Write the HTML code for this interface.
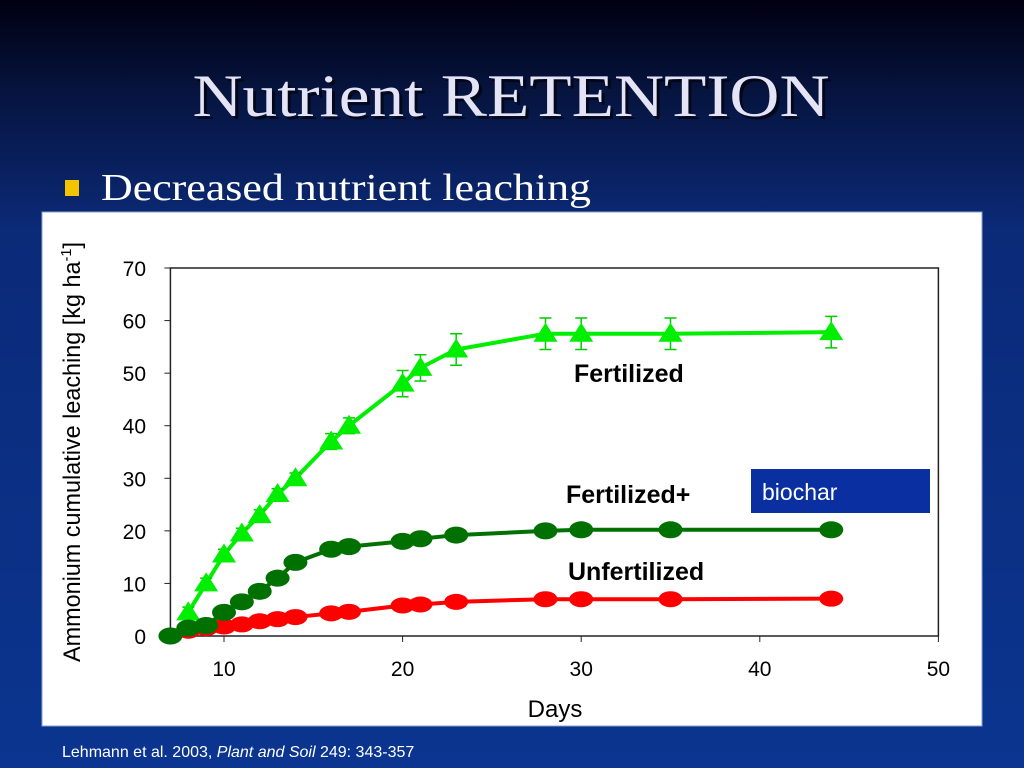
<!DOCTYPE html>
<html><head><meta charset="utf-8"><style>
body{margin:0;width:1024px;height:768px;overflow:hidden;}
svg{display:block}
</style></head><body>
<svg width="1024" height="768" xmlns="http://www.w3.org/2000/svg">
<defs>
<linearGradient id="bg" x1="0" y1="0" x2="0" y2="1">
<stop offset="0" stop-color="#000010"/><stop offset="0.12" stop-color="#06143f"/><stop offset="0.3" stop-color="#0b2a78"/><stop offset="1" stop-color="#0b3590"/>
</linearGradient>
</defs>
<rect width="1024" height="768" fill="url(#bg)"/>
<text x="514" y="119" text-anchor="middle" font-family="Liberation Serif, serif" font-size="60" fill="#000" opacity="0.6" textLength="637" lengthAdjust="spacingAndGlyphs">Nutrient RETENTION</text>
<text x="511" y="116" text-anchor="middle" font-family="Liberation Serif, serif" font-size="60" fill="#e4e4f6" textLength="637" lengthAdjust="spacingAndGlyphs">Nutrient RETENTION</text>
<rect x="65" y="180" width="14" height="16" fill="#f5c400"/>
<text x="101" y="200" font-family="Liberation Serif, serif" font-size="38" fill="#fff" textLength="490" lengthAdjust="spacingAndGlyphs">Decreased nutrient leaching</text>
<rect x="42" y="212" width="940" height="514" fill="#fff" stroke="#8aa0d0"/>
<g id="chart"></g>
<text x="62" y="757" font-family="Liberation Sans, sans-serif" font-size="16" fill="#fff">Lehmann et al. 2003, <tspan font-style="italic">Plant and Soil</tspan> 249: 343-357</text>
</svg>
<script>
const days=[8,9,10,11,12,13,14,16,17,20,21,23,28,30,35,44];
const fertilized=[4.5,10,15.5,19.5,23,27,30,37,40,48,51,54.5,57.5,57.5,57.5,57.8];
const fertErr=[1,1,1,1,1,1,1,1.5,1.5,2.5,2.5,3,3,3,3,3];
const biocharDays=[7,8,9,10,11,12,13,14,16,17,20,21,23,28,30,35,44];
const biochar=[0,1.5,2,4.5,6.5,8.5,11,14,16.5,17,18,18.5,19.2,20,20.2,20.2,20.2];
const unfertDays=[8,9,10,11,12,13,14,16,17,20,21,23,28,30,35,44];
const unfert=[1,1.5,1.8,2.2,2.8,3.2,3.6,4.3,4.6,5.8,6,6.5,7,7,7,7.1];
const xTicks=[10,20,30,40,50];
const yTicks=[0,10,20,30,40,50,60,70];
const NS='http://www.w3.org/2000/svg';
const g=document.getElementById('chart');
const X=v=>224+(v-10)*17.86, Y=v=>636-v*5.257;
function el(t,a,p){const e=document.createElementNS(NS,t);for(const k in a)e.setAttribute(k,a[k]);(p||g).appendChild(e);return e;}
let e;
e=el('path',{d:`M${X(7)},${Y(70)}H${X(50)}V${Y(0)}H${X(7)}Z`,fill:'none',stroke:'#222','stroke-width':1.5});


xTicks.forEach(t=>{el('line',{x1:X(t),x2:X(t),y1:Y(0),y2:Y(0)+6,stroke:'#222'});
e=el('text',{x:X(t),y:676,'text-anchor':'middle','font-family':'Liberation Sans, sans-serif','font-size':21,fill:'#000'});e.textContent=t;

});
yTicks.forEach(t=>{el('line',{x1:X(7)-6,x2:X(7),y1:Y(t),y2:Y(t),stroke:'#222'});
e=el('text',{x:146,y:Y(t)+8,'text-anchor':'end','font-family':'Liberation Sans, sans-serif','font-size':21,fill:'#000'});e.textContent=t;

});
e=el('text',{x:555,y:717,'text-anchor':'middle','font-family':'Liberation Sans, sans-serif','font-size':24,fill:'#000'});e.textContent='Days';


e=el('text',{transform:'translate(80,452) rotate(-90)','text-anchor':'middle','font-family':'Liberation Sans, sans-serif','font-size':24,fill:'#000',textLength:420,lengthAdjust:'spacingAndGlyphs'});
e.innerHTML='Ammonium cumulative leaching [kg ha<tspan dy="-9" font-size="15">-1</tspan><tspan dy="9">]</tspan>';


function line(xs,ys,col,name){e=el('polyline',{points:xs.map((d,i)=>X(d)+','+Y(ys[i])).join(' '),fill:'none',stroke:col,'stroke-width':4});

}
line(unfertDays,unfert,'#ff0000','unfertilized-line');
unfertDays.forEach((d,i)=>{e=el('ellipse',{cx:X(d),cy:Y(unfert[i]),rx:12,ry:8,fill:'#ff0000'});

});
line(days,fertilized,'#00ee00','fertilized-line');
days.forEach((d,i)=>{const x=X(d),y=Y(fertilized[i]),h=fertErr[i]*5.257;
el('path',{d:`M${x},${y-h}V${y+h}M${x-6},${y-h}H${x+6}M${x-6},${y+h}H${x+6}`,stroke:'#00cc00','stroke-width':1.5});
e=el('polygon',{points:`${x},${y-11} ${x-12},${y+8} ${x+12},${y+8}`,fill:'#00ee00'});

});
line(biocharDays,biochar,'#007000','biochar-line');
biocharDays.forEach((d,i)=>{e=el('ellipse',{cx:X(d),cy:Y(biochar[i]),rx:12,ry:8.5,fill:'#007000'});

});
function lab(x,y,t,n){e=el('text',{x:x,y:y,'font-family':'Liberation Sans, sans-serif','font-size':25,'font-weight':'bold',fill:'#000'});e.textContent=t;

}
lab(574,382,'Fertilized','fertilized-label');
lab(566,503,'Fertilized+','biochar-label');
lab(568,580,'Unfertilized','unfertilized-label');
e=el('rect',{x:751,y:469,width:179,height:44,fill:'#0a2fa0'});


e=el('text',{x:762,y:500,'font-family':'Liberation Sans, sans-serif','font-size':23,fill:'#fff'});e.textContent='biochar';


</script>
</body></html>
